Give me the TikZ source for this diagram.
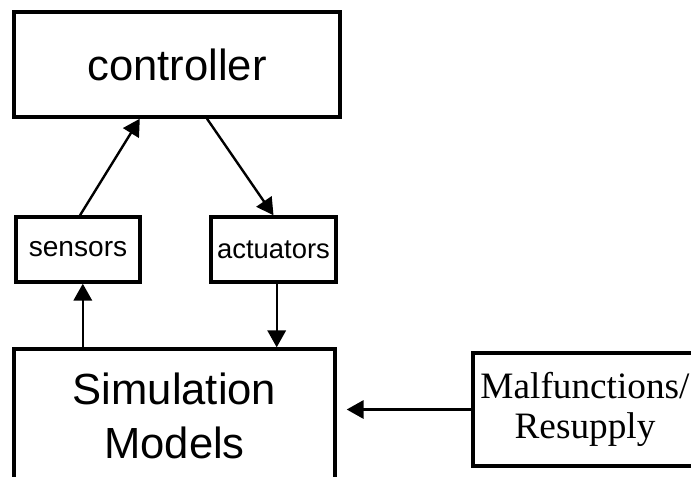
\documentclass[tikz,border=0pt]{standalone}
\usepackage{fontspec}
\setmainfont{Liberation Sans}
\newfontfamily\timesfont{Liberation Serif}
\usepackage{tikz}
\usetikzlibrary{arrows.meta}
\tikzset{
  box/.style={draw,line width=2.4pt,inner sep=0pt,align=center},
  link/.style={line width=1.7pt,-{Triangle[length=12pt,width=13pt]}}
}

\begin{document}
\begin{tikzpicture}[x=0.025cm,y=-0.025cm]
    \useasboundingbox (0,0) rectangle (691,476);
    \clip (0,0) rectangle (691,476);
    % Top box
    \node[box,minimum width=8.15cm,minimum height=2.625cm,
      font=\fontsize{31}{36}\selectfont] (ctrl) at (177,64.5) {controller};
    % Sensor and actuator boxes
    \node[box,minimum width=3.1cm,minimum height=1.625cm,
      font=\fontsize{20}{24}\selectfont] (sens) at (78,249.5) {sensors};
    \node[box,minimum width=3.125cm,minimum height=1.625cm,
      font=\fontsize{19.5}{24}\selectfont] (act) at (273.5,249.5) {actuators};
    % Models
    \node[box,minimum width=8.025cm,minimum height=3.35cm,
      font=\fontsize{31}{38.4}\selectfont] (sim) at (174.5,416)
      {Simulation\\Models};
    % Right box
    \node[box,minimum width=5.6cm,minimum height=2.825cm,
      font=\timesfont\fontsize{26.5}{28.5}\selectfont] (mal) at (585,409.5)
      {Malfunctions/\\Resupply};
    % Arrows
    \draw[link] ([xshift=0.05cm]sens.north) -- ([xshift=-0.93cm]ctrl.south);
    \draw[link] ([xshift=0.75cm]ctrl.south) -- (act.north);
    \draw[link] ([xshift=0.12cm]sim.north -| sens.south)
      -- ([xshift=0.12cm]sens.south);
    \draw[link] ([xshift=0.08cm]act.south) -- ([xshift=0.08cm]act.south |- sim.north);
    \draw[link,shorten >=0.25cm] (mal.west) -- (mal.west -| sim.east);
  \end{tikzpicture}
\end{document}
